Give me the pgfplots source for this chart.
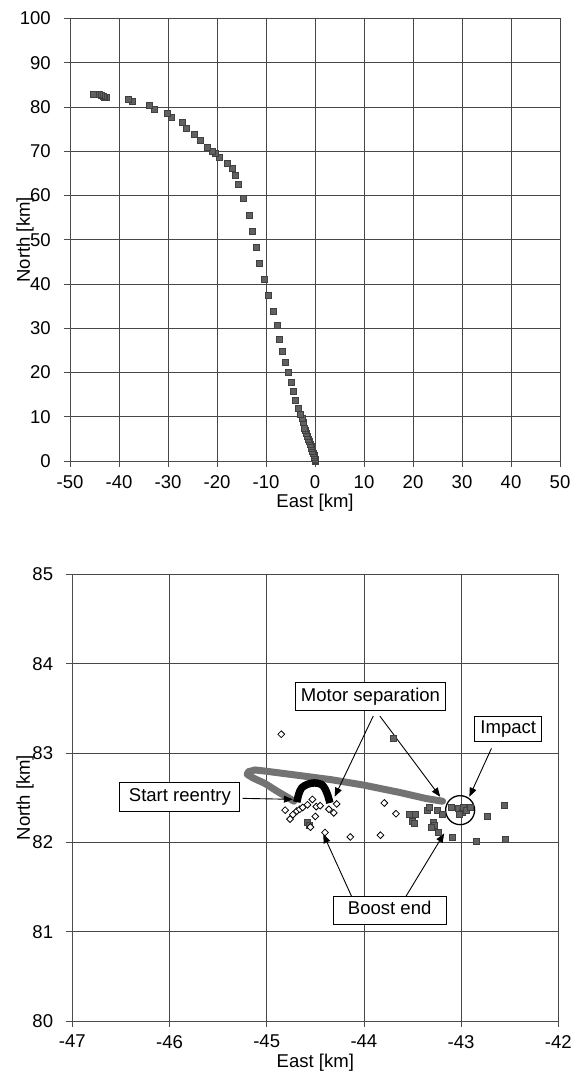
\documentclass[border=0pt]{standalone}
\usepackage{fontspec}
\setmainfont{Liberation Sans}
\usepackage{pgfplots}
\pgfplotsset{compat=1.18}
\usetikzlibrary{arrows.meta}

\newcommand{\ff}{\fontsize{18.6pt}{22pt}\selectfont}
\pgfplotsset{
  exc/.style={
    scale only axis,
    axis lines*=left,
    axis line style={black!70, line width=0.8bp},
    grid=major,
    major grid style={black!72, line width=0.8bp},
    tick align=outside,
    major tick length=6bp,
    tick style={black!70, line width=0.8bp},
    clip=false,
    tick label style={font=\ff},
    label style={font=\ff},
    xticklabel style={font=\ff, anchor=north, inner sep=0pt, yshift=-8bp},
    yticklabel style={font=\ff, anchor=east, inner sep=0pt, xshift=-13bp},
    xlabel style={at={(axis description cs:0.5,0)}, anchor=center, yshift=-42bp},
  },
  dsq/.style={only marks, mark=square*, mark size=3bp,
    mark options={fill=black!62, draw=black!75, line width=0.4bp}},
}

\begin{document}
\begin{tikzpicture}[x=1bp,y=1bp]
\useasboundingbox (0,0) rectangle (578,1076);

% ---------------- top plot ----------------
\begin{axis}[exc, at={(70bp,615bp)}, anchor=south west,
  width=490bp, height=442.5bp,
  xmin=-50, xmax=50, ymin=0, ymax=100,
  xtick={-50,-40,-30,-20,-10,0,10,20,30,40,50},
  xticklabels={-50,-40,-30,-20,-10,0,10,20,30,40,50},
  ytick={0,10,20,30,40,50,60,70,80,90,100},
  yticklabels={0,10,20,30,40,50,60,70,80,90,100},
  xlabel={East [km]}, ylabel={North [km]},
  ylabel style={at={(axis description cs:-0.0918,0.5)}, anchor=center},
]
\addplot[dsq] coordinates {
(0,0) (0,0.2) (-0.05,0.5) (-0.1,0.9) (-0.25,1.3) (-0.4,1.8) (-0.55,2.3) (-0.7,2.8)
(-0.85,3.3) (-1.0,3.8) (-1.2,4.4) (-1.4,5.0) (-1.6,5.6) (-1.8,6.3) (-2.0,6.9) (-2.2,7.5)
(-2.5,8.8) (-2.7,9.6) (-3.0,10.5) (-3.5,11.9) (-4.0,13.7) (-4.5,15.7) (-4.9,17.7) (-5.5,20.0)
(-6.1,22.4) (-6.6,24.8) (-7.3,27.6) (-7.8,30.7) (-8.6,33.9) (-9.6,37.4) (-10.4,41.0) (-11.3,44.6)
(-12.1,48.2) (-12.8,51.9) (-13.5,55.5) (-14.7,59.3) (-15.7,62.5) (-16.2,64.6) (-16.8,66.2)
(-18.0,67.2) (-19.5,68.6) (-20.3,69.6) (-20.9,70.1) (-22.1,70.8) (-23.4,72.5) (-24.6,73.8)
(-26.3,75.2) (-27.2,76.5) (-29.3,77.6) (-30.1,78.7) (-32.9,79.6) (-33.8,80.5) (-37.3,81.2)
(-38.2,81.7) (-42.6,82.3) (-43.0,82.3) (-43.3,82.4) (-43.7,82.6) (-44.0,82.9) (-44.4,83.0)
(-44.8,82.8) (-45.2,82.8)
};
\end{axis}

% ---------------- bottom plot ----------------
\begin{axis}[exc, at={(72.3bp,55bp)}, anchor=south west,
  width=486bp, height=446.7bp,
  xmin=-47, xmax=-42, ymin=80, ymax=85,
  xtick={-47,-46,-45,-44,-43,-42},
  xticklabels={-47,-46,-45,-44,-43,-42},
  ytick={80,81,82,83,84,85},
  yticklabels={80,81,82,83,84,85},
  xlabel={East [km]}, ylabel={North [km]},
  ylabel style={at={(axis description cs:-0.0973,0.5)}, anchor=center},
]
% trajectory band (dense points)
\addplot[black!55, line width=7bp, line join=round, line cap=round] coordinates {
(-43.19,82.46) (-43.36,82.49) (-43.64,82.56) (-44.0,82.64) (-44.33,82.70) (-44.68,82.75)
(-45.0,82.795) (-45.12,82.81) (-45.19,82.79) (-45.20,82.76) (-45.14,82.72) (-45.02,82.66)
(-44.89,82.57) (-44.78,82.50) (-44.72,82.46)
};
% reentry arc
\addplot[black, line width=7.5bp, line cap=butt, line join=round, smooth] coordinates {
(-44.69,82.45) (-44.67,82.54) (-44.64,82.61) (-44.58,82.65) (-44.51,82.665)
(-44.44,82.65) (-44.40,82.60) (-44.37,82.52) (-44.35,82.44)
};
% scattered points
\addplot[dsq] coordinates {
(-43.70,83.17) (-43.53,82.31) (-43.47,82.32) (-43.50,82.24) (-43.48,82.21) (-43.35,82.36)
(-43.33,82.39) (-43.29,82.23) (-43.28,82.19) (-43.31,82.17) (-43.24,82.11) (-43.25,82.36)
(-43.19,82.32) (-43.09,82.06) (-43.10,82.39) (-43.03,82.38) (-42.99,82.34) (-42.98,82.39)
(-43.02,82.32) (-42.95,82.36) (-42.91,82.39) (-42.84,82.01) (-42.73,82.29) (-42.56,82.41)
(-42.55,82.03) (-44.58,82.23) (-44.56,82.19)
};
% open diamonds
\addplot[only marks, mark=square*, mark size=2.4bp,
  mark options={rotate=45, fill=white, draw=black, line width=0.8bp}] coordinates {
(-44.85,83.21) (-44.81,82.36) (-44.76,82.26) (-44.73,82.31) (-44.69,82.35) (-44.66,82.37)
(-44.63,82.39) (-44.58,82.42) (-44.53,82.48) (-44.49,82.40) (-44.45,82.41) (-44.36,82.37)
(-44.31,82.33) (-44.28,82.43) (-44.50,82.29) (-44.40,82.11) (-44.14,82.06) (-43.83,82.08)
(-43.79,82.44) (-43.67,82.32) (-44.55,82.17)
};
% annotations
\tikzset{abox/.style={draw=black, line width=0.9bp, fill=white, inner sep=0pt,
  text height=13bp, text depth=4bp, font=\ff},
  aarr/.style={line width=0.9bp, -{Triangle[length=9bp,width=7bp]}}}
\draw[line width=1.3bp] (axis cs:-43.01,82.36) circle[radius=14.5bp];
\draw[aarr] (axis cs:-45.248,82.492) -- (axis cs:-44.731,82.481);
\draw[aarr] (axis cs:-43.904,83.413) -- (axis cs:-44.301,82.510);
\draw[aarr] (axis cs:-43.836,83.413) -- (axis cs:-43.215,82.510);
\draw[aarr] (axis cs:-42.688,83.051) -- (axis cs:-42.915,82.510);
\draw[aarr] (axis cs:-44.128,81.398) -- (axis cs:-44.418,82.092);
\draw[aarr] (axis cs:-43.566,81.398) -- (axis cs:-43.174,82.100);
\node[abox, minimum width=150bp, minimum height=27.3bp] at (axis cs:-43.932,83.632) {Motor separation};
\node[abox, minimum width=66.6bp, minimum height=25bp] at (axis cs:-42.515,83.265) {Impact};
\node[abox, minimum width=120bp, minimum height=28.3bp] at (axis cs:-45.893,82.507) {Start reentry};
\node[abox, minimum width=113bp, minimum height=28bp] at (axis cs:-43.735,81.241) {Boost end};
\end{axis}
\end{tikzpicture}
\end{document}
